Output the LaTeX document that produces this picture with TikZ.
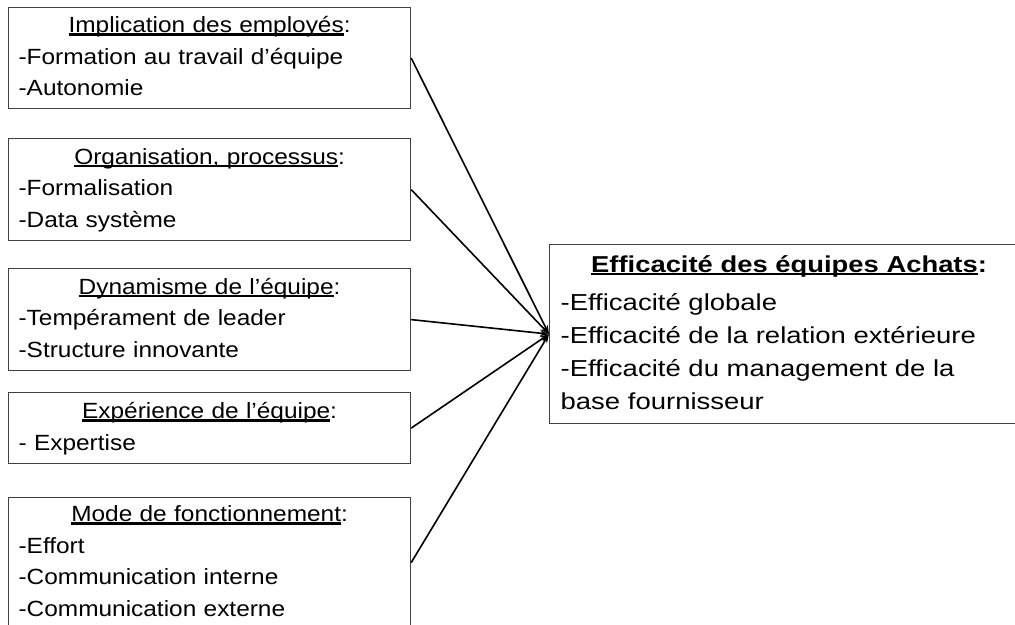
\documentclass[tikz,border=0pt]{standalone}
\usepackage{fontspec}
\setmainfont{Liberation Sans}
\newfontfamily\lfont[FakeStretch=1.11]{Liberation Sans}
\newfontfamily\rfont[FakeStretch=1.19]{Liberation Sans}
\usetikzlibrary{arrows.meta}
\newcommand\myul[1]{\setbox0\hbox{#1}\rlap{\rule[-3pt]{\wd0}{2.6pt}}\box0}
\begin{document}
\begin{tikzpicture}[x=1pt,y=-1pt,
  lbox/.style={draw=black!75, line width=1.2pt, minimum width=402pt, text width=382pt,
    inner xsep=10pt, inner ysep=0pt, align=left, anchor=north west,
    font=\lfont\fontsize{22}{31.5}\selectfont},
  rbox/.style={draw=black!75, line width=1.2pt, minimum width=479pt, text width=457pt,
    inner xsep=11pt, inner ysep=0pt, align=left, anchor=north west,
    font=\rfont\fontsize{23.1}{33}\selectfont},
  conn/.style={line width=1.6pt, -{Stealth[length=9pt,width=6pt]}}]
\useasboundingbox (0,0) rectangle (1015,624);
\clip (0,0) rectangle (1015,624);

\node[lbox, minimum height=101pt] (b1) at (8,7)
  {{\centering\myul{Implication des employés}:\strut\par}-Formation au travail d’équipe\strut\\-Autonomie\strut};
\node[lbox, minimum height=102pt] (b2) at (8,138)
  {{\centering\myul{Organisation, processus}:\strut\par}-Formalisation\strut\\-Data système\strut};
\node[lbox, minimum height=102pt] (b3) at (8,268)
  {{\centering\myul{Dynamisme de l’équipe}:\strut\par}-Tempérament de leader\strut\\-Structure innovante\strut};
\node[lbox, minimum height=71pt] (b4) at (8,392)
  {{\centering\myul{Expérience de l’équipe}:\strut\par}- Expertise\strut};
\node[lbox, minimum height=130pt] (b5) at (8,497)
  {{\centering\myul{Mode de fonctionnement}:\strut\par}-Effort\strut\\-Communication interne\strut\\-Communication externe\strut};

\node[rbox, minimum height=179pt] (eff) at (549,244)
  {{\centering\bfseries\fontsize{23}{33}\selectfont\myul{Efficacité des équipes Achats}:\strut\par}\vspace{5pt}%
   -Efficacité globale\strut\\-Efficacité de la relation extérieure\strut\\-Efficacité du management de la\strut\\base fournisseur\strut};

\draw[conn] (b1.east) -- (eff.west);
\draw[conn] (b2.east) -- (eff.west);
\draw[conn] (b3.east) -- (eff.west);
\draw[conn] (b4.east) -- (eff.west);
\draw[conn] (b5.east) -- (eff.west);
\end{tikzpicture}
\end{document}
